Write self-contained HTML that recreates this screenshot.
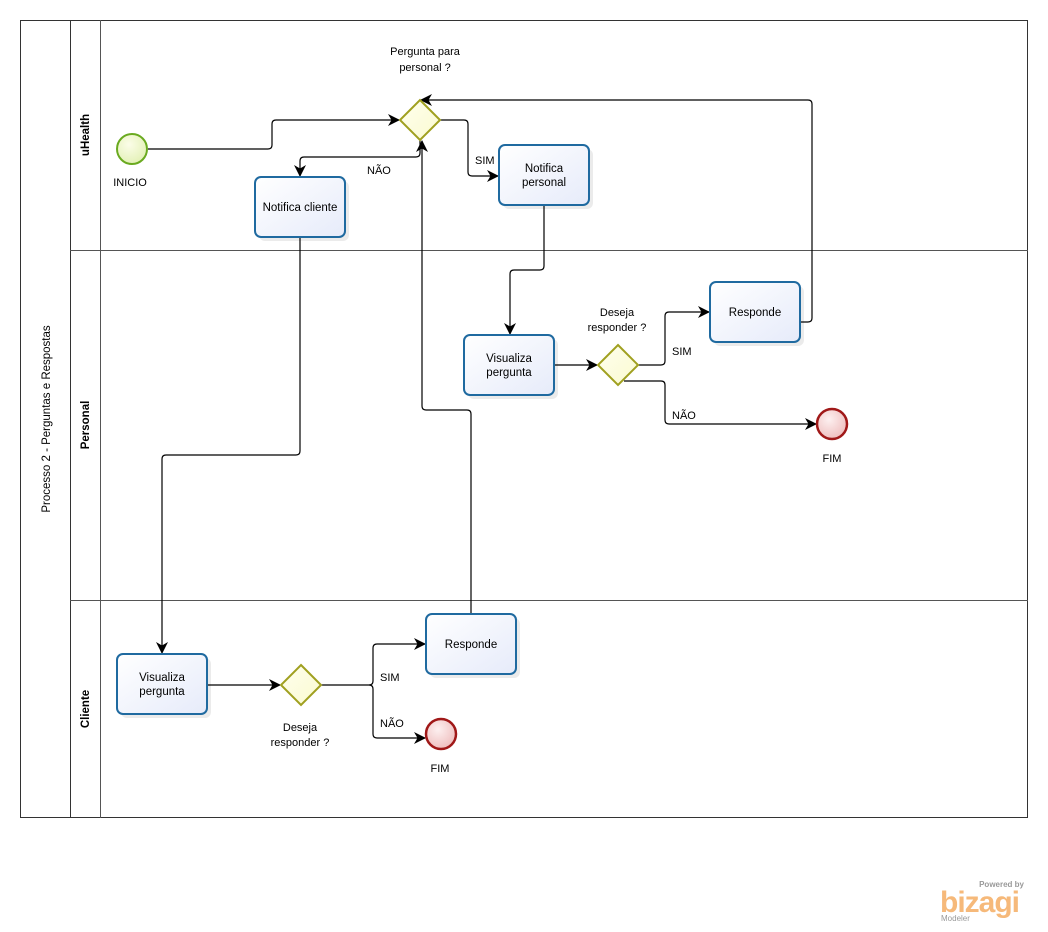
<!DOCTYPE html>
<html><head><meta charset="utf-8"><style>
html,body{margin:0;padding:0;background:#fff;}
svg{display:block;font-family:"Liberation Sans",sans-serif;}
</style></head><body>
<svg width="1048" height="932" viewBox="0 0 1048 932" xmlns="http://www.w3.org/2000/svg">
<defs>
<marker id="a" markerWidth="12" markerHeight="12" refX="11" refY="6" orient="auto" markerUnits="userSpaceOnUse">
<path d="M0,0 L12,6 L0,12 L3.5,6 Z" fill="#000"/></marker>
<linearGradient id="tg" x1="0" y1="0" x2="1" y2="1"><stop offset="0" stop-color="#ffffff"/><stop offset="1" stop-color="#e6ebfa"/></linearGradient>
<radialGradient id="sg" cx="0.4" cy="0.35" r="0.7"><stop offset="0" stop-color="#fbfde8"/><stop offset="1" stop-color="#e2f0b4"/></radialGradient>
<radialGradient id="eg" cx="0.4" cy="0.35" r="0.7"><stop offset="0" stop-color="#fdf0f0"/><stop offset="1" stop-color="#eebcbc"/></radialGradient>
<linearGradient id="gg" x1="0" y1="0" x2="1" y2="1"><stop offset="0" stop-color="#ffffee"/><stop offset="1" stop-color="#fafad0"/></linearGradient>
</defs>
<rect x="20.5" y="20.5" width="1007" height="797" fill="#fff" stroke="#333"/>
<line x1="70.5" y1="20" x2="70.5" y2="818" stroke="#333"/>
<line x1="100.5" y1="20" x2="100.5" y2="818" stroke="#555"/>
<line x1="70" y1="250.5" x2="1028" y2="250.5" stroke="#555"/>
<line x1="70" y1="600.5" x2="1028" y2="600.5" stroke="#555"/>
<text transform="translate(50,419) rotate(-90)" text-anchor="middle" font-size="11.5">Processo 2 - Perguntas e Respostas</text>
<text transform="translate(89,135) rotate(-90)" text-anchor="middle" font-size="11.5" font-weight="bold">uHealth</text>
<text transform="translate(89,425) rotate(-90)" text-anchor="middle" font-size="11.5" font-weight="bold">Personal</text>
<text transform="translate(89,709) rotate(-90)" text-anchor="middle" font-size="11.5" font-weight="bold">Cliente</text>

<g fill="none" stroke="#000" stroke-width="1.2">
<path d="M148,149 L268,149 Q272,149 272,145 L272,124 Q272,120 276,120 L399,120" marker-end="url(#a)"/>
<path d="M440,120 L464,120 Q468,120 468,124 L468,172 Q468,176 472,176 L498,176" marker-end="url(#a)"/>
<path d="M420,140 L420,153 Q420,157 416,157 L304,157 Q300,157 300,161 L300,176" marker-end="url(#a)"/>
<path d="M544,205 L544,266 Q544,270 540,270 L514,270 Q510,270 510,274 L510,334" marker-end="url(#a)"/>
<path d="M554,365 L597,365" marker-end="url(#a)"/>
<path d="M638,365 L661,365 Q665,365 665,361 L665,316 Q665,312 669,312 L709,312" marker-end="url(#a)"/>
<path d="M624,381 L661,381 Q665,381 665,385 L665,420 Q665,424 669,424 L816,424" marker-end="url(#a)"/>
<path d="M800,322 L808,322 Q812,322 812,318 L812,104 Q812,100 808,100 L430,100 L421,100" marker-end="url(#a)"/>
<path d="M300,237 L300,451 Q300,455 296,455 L166,455 Q162,455 162,459 L162,653" marker-end="url(#a)"/>
<path d="M207,685 L280,685" marker-end="url(#a)"/>
<path d="M321,685 L369,685 Q373,685 373,681 L373,648 Q373,644 377,644 L425,644" marker-end="url(#a)"/>
<path d="M369,685 Q373,685 373,689 L373,734 Q373,738 377,738 L425,738" marker-end="url(#a)"/>
<path d="M471,614 L471,414 Q471,410 467,410 L426,410 Q422,410 422,406 L422,141" marker-end="url(#a)"/>
</g>

<circle cx="132" cy="149" r="15" fill="url(#sg)" stroke="#6aaa20" stroke-width="2"/>
<text x="130" y="186" text-anchor="middle" font-size="11">INICIO</text>
<circle cx="832" cy="424" r="15" fill="url(#eg)" stroke="#a01818" stroke-width="2.5"/>
<text x="832" y="462" text-anchor="middle" font-size="11">FIM</text>
<circle cx="441" cy="734" r="15" fill="url(#eg)" stroke="#a01818" stroke-width="2.5"/>
<text x="440" y="772" text-anchor="middle" font-size="11">FIM</text>

<g fill="url(#gg)" stroke="#a0a020" stroke-width="2">
<path d="M420,100 L440,120 L420,140 L400,120 Z"/>
<path d="M618,345 L638,365 L618,385 L598,365 Z"/>
<path d="M301,665 L321,685 L301,705 L281,685 Z"/>
</g>
<g font-size="11" text-anchor="middle">
<text x="425" y="55">Pergunta para</text><text x="425" y="71">personal ?</text>
<text x="617" y="316">Deseja</text><text x="617" y="331">responder ?</text>
<text x="300" y="731">Deseja</text><text x="300" y="746">responder ?</text>
</g>
<g font-size="11">
<text x="475" y="164">SIM</text>
<text x="367" y="174">NÃO</text>
<text x="672" y="355">SIM</text>
<text x="672" y="419">NÃO</text>
<text x="380" y="681">SIM</text>
<text x="380" y="727">NÃO</text>
</g>

<g fill="#000" opacity="0.08">
<rect x="259" y="181" width="90" height="60" rx="6"/>
<rect x="503" y="149" width="90" height="60" rx="6"/>
<rect x="468" y="339" width="90" height="60" rx="6"/>
<rect x="714" y="286" width="90" height="60" rx="6"/>
<rect x="121" y="658" width="90" height="60" rx="6"/>
<rect x="430" y="618" width="90" height="60" rx="6"/>
</g>
<g fill="url(#tg)" stroke="#1f6aa0" stroke-width="2">
<rect x="255" y="177" width="90" height="60" rx="6"/>
<rect x="499" y="145" width="90" height="60" rx="6"/>
<rect x="464" y="335" width="90" height="60" rx="6"/>
<rect x="710" y="282" width="90" height="60" rx="6"/>
<rect x="117" y="654" width="90" height="60" rx="6"/>
<rect x="426" y="614" width="90" height="60" rx="6"/>
</g>
<g font-size="11.5" text-anchor="middle">
<text x="300" y="211">Notifica cliente</text>
<text x="544" y="172">Notifica</text><text x="544" y="186">personal</text>
<text x="509" y="362">Visualiza</text><text x="509" y="376">pergunta</text>
<text x="755" y="316">Responde</text>
<text x="162" y="681">Visualiza</text><text x="162" y="695">pergunta</text>
<text x="471" y="648">Responde</text>
</g>

<text x="1024" y="887" text-anchor="end" font-size="8" fill="#999" font-weight="bold">Powered by</text>
<text x="940" y="912" font-size="30" fill="#f6b97a" font-weight="bold" letter-spacing="-1">bizagi</text>
<text x="941" y="921" font-size="8" fill="#999">Modeler</text>
</svg>
</body></html>
